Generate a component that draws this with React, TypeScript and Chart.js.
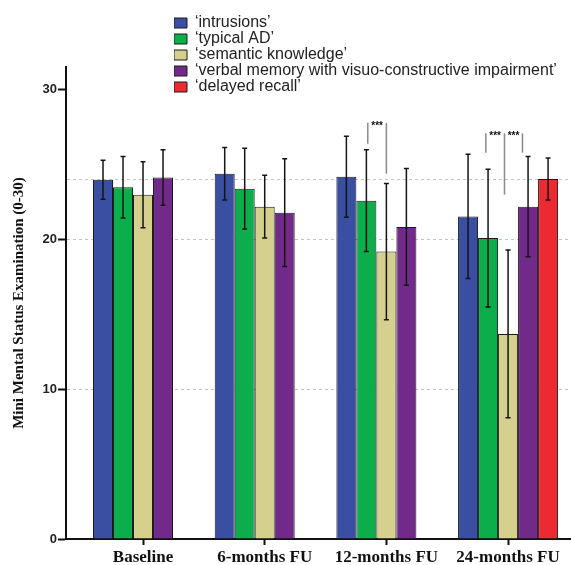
import React, { useEffect, useRef } from "react";
import { Chart, registerables } from "chart.js";

Chart.register(...registerables);

const groupLabels = ["Baseline", "6-months FU", "12-months FU", "24-months FU"];
const seriesNames = [
  "\u2018intrusions\u2019",
  "\u2018typical AD\u2019",
  "\u2018semantic knowledge\u2019",
  "\u2018verbal memory with visuo-constructive impairment\u2019",
  "\u2018delayed recall\u2019",
];
const seriesColors = ["#3a4ea2", "#0cae4c", "#d5d08e", "#722a8a", "#ec2a32"];

const intrusionsMean = [24.0, 24.4, 24.2, 21.55];
const typicalADMean = [23.5, 23.4, 22.6, 20.1];
const semanticMean = [23.0, 22.2, 19.2, 13.7];
const verbalMean = [24.15, 21.8, 20.85, 22.2];
const delayedMean = [null, null, null, 24.05];

const intrusionsErr = [1.3, 1.75, 2.7, 4.15];
const typicalADErr = [2.05, 2.7, 3.4, 4.6];
const semanticErr = [2.2, 2.1, 4.55, 5.6];
const verbalErr = [1.85, 3.6, 3.9, 3.35];
const delayedErr = [null, null, null, 1.4];

const allMeans = [intrusionsMean, typicalADMean, semanticMean, verbalMean, delayedMean];
const allErrs = [intrusionsErr, typicalADErr, semanticErr, verbalErr, delayedErr];

const yTickValues = [0, 10, 20, 24, 30];
const yGridValues = [10, 20, 24];

// significance brackets
const sigGroups = [2, 3];
const sigLineSlots = [[1.07, 2.0], [0.89, 1.82, 2.72]];
const sigLineTops = [27.8, 27.1];
const sigLineBottoms = [[26.4, 24.4], [25.8, 23.0, 25.8]];
const sigLabel = "***";

const errorBarPlugin = {
  id: "errorBars",
  afterDatasetsDraw(chart: any) {
    const { ctx } = chart;
    const y = chart.scales.y;
    ctx.save();
    ctx.strokeStyle = "#151515";
    ctx.lineWidth = 1.5;
    allMeans.forEach((means, di) => {
      const meta = chart.getDatasetMeta(di);
      meta.data.forEach((bar: any, i: number) => {
        const v = means[i];
        const e = allErrs[di][i];
        if (v == null || e == null) return;
        const x = bar.x;
        const yt = y.getPixelForValue(v + e);
        const yb = y.getPixelForValue(v - e);
        ctx.beginPath();
        ctx.moveTo(x, yt);
        ctx.lineTo(x, yb);
        ctx.moveTo(x - 2.5, yt);
        ctx.lineTo(x + 2.5, yt);
        ctx.moveTo(x - 2.5, yb);
        ctx.lineTo(x + 2.5, yb);
        ctx.stroke();
      });
    });
    // brackets
    const xs = chart.scales.x;
    sigGroups.forEach((g, k) => {
      const barW = chart.getDatasetMeta(0).data[g].width;
      const center = xs.getPixelForValue(g);
      const top = y.getPixelForValue(sigLineTops[k]);
      const px = sigLineSlots[k].map((s) => center + (s - 2) * barW);
      ctx.strokeStyle = "#8a8a8a";
      ctx.lineWidth = 1.5;
      px.forEach((x, j) => {
        ctx.beginPath();
        ctx.moveTo(x, top);
        ctx.lineTo(x, y.getPixelForValue(sigLineBottoms[k][j]));
        ctx.stroke();
      });
      ctx.fillStyle = "#111";
      ctx.font = "bold 10px 'Liberation Sans'";
      ctx.textAlign = "center";
      ctx.textBaseline = "top";
      for (let j = 0; j < px.length - 1; j++) {
        ctx.fillText(sigLabel, (px[j] + px[j + 1]) / 2, top - 2);
      }
    });
    ctx.restore();
  },
};

const legendShiftPlugin = {
  id: "legendShift",
  afterLayout(chart: any) {
    const lg = chart.legend;
    if (!lg) return;
    const dx = 174 - lg.left;
    const dy = 15 - lg.top;
    lg.left += dx;
    lg.right += dx;
    lg.top += dy;
    lg.bottom += dy;
  },
};

export default function App() {
  const ref = useRef<HTMLCanvasElement>(null);
  useEffect(() => {
    if (!ref.current) return;
    const datasets = allMeans.map((means, di) => ({
      label: seriesNames[di],
      data: means.map((v, i) => ({ x: i, y: v })),
      backgroundColor: seriesColors[di],
      borderColor: "#1a1a1a",
      borderWidth: 1,
      barPercentage: 1,
      categoryPercentage: 0.822,
    }));
    const chart = new Chart(ref.current, {
      type: "bar",
      data: { datasets },
      options: {
        animation: false,
        responsive: false,
        events: [],
        layout: { padding: { top: 67, right: 1, left: 0, bottom: 0 } },
        plugins: {
          tooltip: { enabled: false },
          legend: {
            position: "chartArea",
            align: "start",
            labels: {
              boxWidth: 13,
              boxHeight: 10,
              padding: 0,
              color: "#222",
              font: { family: "'Liberation Sans'", size: 16 },
            },
          },
        },
        scales: {
          x: {
            type: "linear",
            min: -0.633,
            max: 3.509,
            offset: false,
            afterBuildTicks: (s: any) => {
              s.ticks = groupLabels.map((_, i) => ({ value: i }));
            },
            afterFit: (s: any) => {
              s.height = 26;
            },
            grid: {
              offset: false,
              drawOnChartArea: false,
              drawTicks: true,
              tickLength: 6,
              tickWidth: 2,
              tickColor: "#111",
            },
            border: { display: true, color: "#111", width: 2 },
            ticks: {
              padding: 2,
              autoSkip: false,
              maxRotation: 0,
              color: "#111",
              font: { family: "'Liberation Serif'", size: 17, weight: "bold" },
              callback: (v: any) => groupLabels[v] ?? "",
            },
          },
          y: {
            min: 0,
            max: 31.53,
            afterBuildTicks: (s: any) => {
              s.ticks = yTickValues.map((v) => ({ value: v }));
            },
            afterFit: (s: any) => {
              s.width = 66;
            },
            grid: {
              color: (c: any) => (yGridValues.includes(c.tick?.value) ? "#c2c2c2" : "rgba(0,0,0,0)"),
              lineWidth: 1,
              tickColor: (c: any) => (c.tick?.value === 24 ? "rgba(0,0,0,0)" : "#111"),
              tickLength: 8,
              tickWidth: 2,
            },
            border: { display: true, color: "#111", width: 2, dash: [3, 3] },
            ticks: {
              padding: 1,
              color: "#222",
              font: { family: "'Liberation Sans'", size: 13, weight: "bold" },
              callback: (v: any) => (v === 24 ? "" : String(v)),
            },
            title: {
              display: true,
              text: "Mini Mental Status Examination (0-30)",
              color: "#111",
              padding: { top: 10, bottom: 0 },
              font: { family: "'Liberation Serif'", size: 15, weight: "bold" },
            },
          },
        },
      },
      plugins: [errorBarPlugin, legendShiftPlugin],
    } as any);
    return () => chart.destroy();
  }, []);
  return (
    <div style={{ position: "fixed", left: 0, top: 0, width: 571, height: 565, background: "#fff" }}>
      <canvas ref={ref} width={571} height={565} style={{ display: "block" }} />
    </div>
  );
}
